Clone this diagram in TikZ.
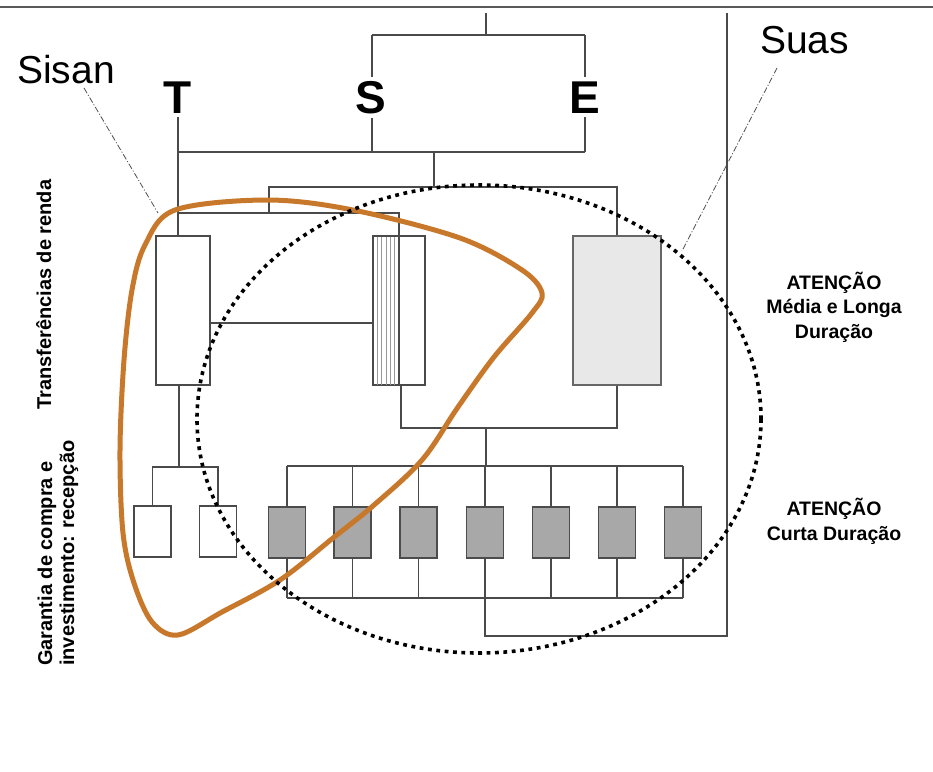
\documentclass[tikz,border=0pt]{standalone}
\usepackage{fontspec}
\setmainfont{Liberation Sans}
\definecolor{ln}{HTML}{4A4A4A}
\definecolor{orng}{HTML}{C8782A}
\definecolor{ldr}{HTML}{505050}
\tikzset{
  ln/.style={draw=ln, line width=1.1pt},
  wbox/.style={draw=ln, line width=1.1pt, fill=white, inner sep=0pt},
  lbox/.style={draw=black!60, line width=1.3pt, fill=black!9, inner sep=0pt},
  gbox/.style={draw=black!70, line width=1.2pt, fill=black!34, inner sep=0pt,
               minimum width=37pt, minimum height=51pt},
  sbox/.style={wbox, minimum width=37pt, minimum height=51pt},
  hatchln/.style={draw=black!40, line width=0.6pt},
  leader/.style={draw=ldr, line width=0.8pt, dash pattern=on 6pt off 2pt on 1pt off 2pt},
  letter/.style={font=\fontsize{46}{46}\selectfont\bfseries, inner sep=4pt},
  biglbl/.style={font=\fontsize{39}{39}\selectfont, inner sep=2pt},
  sidelbl/.style={font=\fontsize{19.5}{24.5}\selectfont\bfseries, align=center, inner sep=0pt},
  rotlbl/.style={font=\fontsize{20}{22}\selectfont\bfseries, align=left, rotate=90, inner sep=0pt},
  sisanline/.style={draw=orng, line width=5pt, line join=round},
  suasline/.style={draw=black, line width=3.6pt, dash pattern=on 3.8pt off 4.6pt}
}
\begin{document}
\begin{tikzpicture}[x=1pt,y=-1pt]
\useasboundingbox (0,0) rectangle (933,771);
\fill[white] (0,0) rectangle (933,771);

% top rule
\draw[draw=black!65, line width=1.6pt] (0,7) -- (933,7);

% labels
\node[biglbl, anchor=base west] (Sisan) at (15,83) {Sisan};
\node[biglbl, anchor=base west] (Suas) at (758,53) {Suas};
\node[letter, anchor=base] (T) at (178,113) {T};
\node[letter, anchor=base] (S) at (371,113) {S};
\node[letter, anchor=base] (E) at (585,113) {E};

\node[sidelbl, anchor=base] (mld) at (834,338) {ATENÇÃO\\Média e Longa\\Duração};
\node[sidelbl, anchor=base] (cd) at (834,540) {ATENÇÃO\\Curta Duração};

\node[rotlbl, anchor=base west] (transf) at (51,410) {Transferências de renda};
\node[rotlbl, anchor=base west] (garant) at (74,666) {Garantia de compra e\\investimento: recepção};

% upper boxes
\node[wbox, minimum width=54pt, minimum height=149pt] (L) at (183,310.5) {};
\node[wbox, minimum width=52pt, minimum height=149pt] (H) at (399,310.5) {};
\node[lbox, minimum width=88pt, minimum height=149pt] (R) at (617,310.5) {};

% hatching of H
\foreach \hx in {377,381.5,386,390,394.5}
  \draw[hatchln] (\hx,236.5) -- (\hx,384.5);
\draw[ln] (399,236) -- (399,385);

% lower boxes
\node[sbox] (A) at (152.5,531.5) {};
\node[sbox] (B) at (218,531.5) {};
\foreach \i/\x in {1/287,2/352.5,3/418.5,4/485,5/551,6/617,7/683}
  \node[gbox] (g\i) at (\x,532.5) {};

% top bracket
\coordinate (top) at (486,13);
\coordinate (bS) at (372,35);
\coordinate (bE) at (585,35);
\draw[ln] (top) -- (top |- bS);
\draw[ln] (bS) -- (bE);
\draw[ln] (bS) -- (bS |- S.north);
\draw[ln] (bE) -- (E.north);
\draw[ln] (bS |- S.south) -- (372,152);
\draw[ln] (E.south) -- (585,152);
\draw[ln] (178,152) -- (585,152);
\draw[ln] (T.south) -- (T.south |- L.north);
\draw[ln] (434,152) -- (434,187);
\draw[ln] (269,213) -- (269,187) -| (R.north);
\draw[ln] (178,213) -- (399,213) -- (399,236);
\draw[ln] (L.east |- 0,323) -- (H.west |- 0,323);

% left small tree
\draw[ln] (179,385) -- (179,467);
\draw[ln] (A.north) |- (179,467) -| (B.north);

% middle tree
\draw[ln] (401,385) -- (401,428) -| (R.south);
\draw[ln] (486,428) -- (486,466);
\foreach \i in {1,...,7} {
  \draw[ln] (g\i.north) -- (g\i.north |- 0,466);
  \draw[ln] (g\i.south) -- (g\i.south |- 0,598);
}
\draw[ln] (g1.north |- 0,466) -- (g7.north |- 0,466);
\draw[ln] (g1.south |- 0,598) -- (g7.south |- 0,598);
\draw[ln] (g4.south |- 0,598) -- (485,636) -- (727,636) -- (727,13);

% leaders
\coordinate (sisanA) at (84,88);
\coordinate (sisanB) at (158,213);
\coordinate (suasA) at (777,68);
\coordinate (suasB) at (682,251);
\draw[leader] (sisanA) -- (sisanB);
\draw[leader] (suasA) -- (suasB);

% Sisan loop
\draw[sisanline] plot[smooth cycle, tension=0.55] coordinates {
  (175,210) (267,200) (353,210) (460,238) (522,270) (542,293) (532,313)
  (494,357) (458,407) (422,460) (374,505) (333,538) (280,580) (222,612)
  (178,635) (152,622) (134,583) (123,533) (120,450) (124,360) (132,290) (145,245)};

% Suas circle
\draw[suasline] (479,419) ellipse [x radius=282, y radius=234];
\end{tikzpicture}
\end{document}
